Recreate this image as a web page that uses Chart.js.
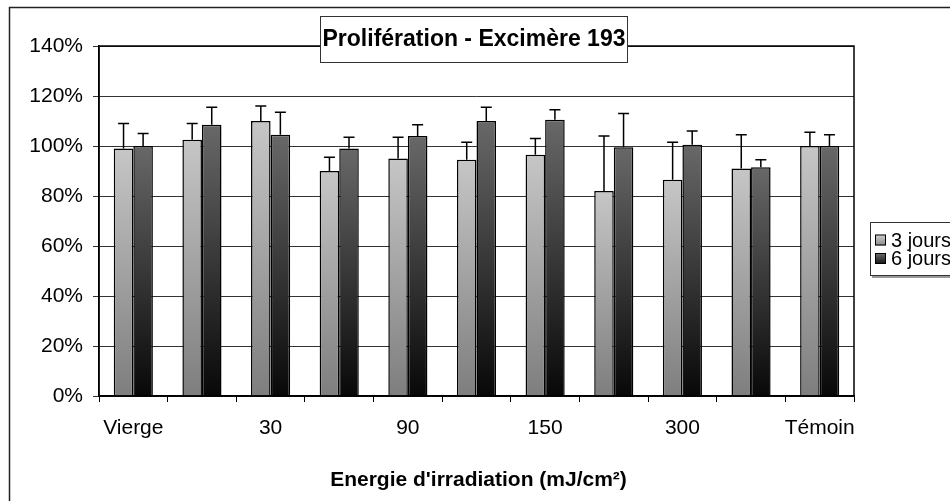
<!DOCTYPE html>
<html>
<head>
<meta charset="utf-8">
<script src="https://cdn.jsdelivr.net/npm/chart.js@4"></script>
<style>
  html, body { margin: 0; padding: 0; background: #fff; }
  #wrap { width: 950px; height: 501px; }
</style>
</head>
<body>
<div id="wrap"><canvas id="myChart" width="950" height="501"></canvas></div>
<script>
const categories = ['Vierge', '', '30', '', '90', '', '150', '', '300', '', 'Témoin'];
const seriesNames = ['3 jours', '6 jours'];
const jours3 = [99, 102.5, 110, 90, 95, 94.5, 96.5, 82, 86.5, 91, 100];
const jours6 = [100, 108.5, 104.5, 99, 104, 110, 110.5, 99.5, 100.5, 91.5, 100];
const err3 = [10, 6.5, 6, 5.5, 8.5, 7, 6.5, 22, 15, 13.5, 5.5];
const err6 = [5, 7, 9, 4.5, 4.5, 5.5, 4, 13.5, 5.5, 3, 4.5];
const yTicks = [0, 20, 40, 60, 80, 100, 120, 140];
const titre = 'Prolifération - Excimère 193';
const titreAxeX = "Energie d'irradiation (mJ/cm²)";

const police = '"Liberation Sans", Arial, sans-serif';
const ctx = document.getElementById('myChart');

// degrade par barre, du haut de la barre jusqu'a 0
const degrade = (haut, bas) => (c) => {
    const chart = c.chart;
    const ys = chart.scales.y;
    if (!ys || c.parsed === undefined || !chart.chartArea) return haut;
    const y0 = ys.getPixelForValue(c.parsed.y);
    const y1 = ys.getPixelForValue(0);
    if (!isFinite(y0) || !isFinite(y1) || y0 === y1) return haut;
    const g = chart.ctx.createLinearGradient(0, y0, 0, y1);
    g.addColorStop(0, haut);
    g.addColorStop(1, bas);
    return g;
};

const decor = {
    id: 'decor',
    beforeDraw(chart) {
        const c = chart.ctx;
        c.save();
        c.fillStyle = '#fff';
        c.fillRect(0, 0, chart.width, chart.height);
        c.restore();
    },
    afterDraw(chart) {
        const c = chart.ctx;
        const a = chart.chartArea;
        const ys = chart.scales.y;
        c.save();

        // cadre exterieur
        c.strokeStyle = '#222';
        c.lineWidth = 1.5;
        c.strokeRect(9.5, 7.5, 1200, 1200);

        // bord de la zone de trace
        c.strokeStyle = '#000';
        c.lineWidth = 1.5;
        c.strokeRect(a.left, a.top, a.right - a.left, a.bottom - a.top);

        // barres d'erreur
        const errs = [err3, err6];
        c.strokeStyle = '#000';
        c.lineWidth = 1.5;
        errs.forEach((e, di) => {
            const meta = chart.getDatasetMeta(di);
            meta.data.forEach((bar, i) => {
                const v = chart.data.datasets[di].data[i];
                const yTop = ys.getPixelForValue(v + e[i]);
                const yBar = ys.getPixelForValue(v);
                c.beginPath();
                c.moveTo(bar.x, yBar);
                c.lineTo(bar.x, yTop);
                c.moveTo(bar.x - 5.5, yTop);
                c.lineTo(bar.x + 5.5, yTop);
                c.stroke();
            });
        });

        // titre
        c.fillStyle = '#fff';
        c.fillRect(320, 16, 307, 46);
        c.strokeStyle = '#333';
        c.lineWidth = 1;
        c.strokeRect(320.5, 16.5, 307, 46);
        c.fillStyle = '#000';
        c.font = 'bold 23px ' + police;
        c.textAlign = 'center';
        c.textBaseline = 'middle';
        c.fillText(titre, 474, 40);

        // titre axe X
        c.font = 'bold 21px ' + police;
        c.fillText(titreAxeX, (a.left + a.right) / 2 + 2, 480);

        // legende
        c.fillStyle = '#999';
        c.fillRect(872, 224, 100, 54);
        c.fillStyle = '#fff';
        c.fillRect(870, 222, 100, 54);
        c.strokeStyle = '#333';
        c.lineWidth = 1;
        c.strokeRect(870.5, 222.5, 100, 53);
        const couleurs = [['#d0d0d0', '#8a8a8a'], ['#707070', '#111']];
        c.textAlign = 'left';
        c.font = '20px ' + police;
        seriesNames.forEach((nom, k) => {
            const yc = 240 + k * 18.5;
            const g = c.createLinearGradient(0, yc - 5.5, 0, yc + 5.5);
            g.addColorStop(0, couleurs[k][0]);
            g.addColorStop(1, couleurs[k][1]);
            c.fillStyle = g;
            c.fillRect(875, yc - 5.5, 11, 11);
            c.strokeStyle = '#000';
            c.strokeRect(875.5, yc - 5, 10, 10);
            c.fillStyle = '#000';
            c.fillText(nom, 891, yc + 1);
        });
        c.restore();
    }
};

new Chart(ctx, {
    type: 'bar',
    data: {
        labels: categories,
        datasets: [{
            label: seriesNames[0],
            data: jours3,
            backgroundColor: degrade('#c6c6c6', '#7e7e7e'),
            borderColor: '#000',
            borderWidth: 1.5,
            categoryPercentage: 0.57,
            barPercentage: 1
        }, {
            label: seriesNames[1],
            data: jours6,
            backgroundColor: degrade('#686868', '#080808'),
            borderColor: '#000',
            borderWidth: 1.5,
            categoryPercentage: 0.57,
            barPercentage: 1
        }]
    },
    options: {
        responsive: false,
        animation: false,
        events: [],
        layout: { padding: { left: 0, top: 46, right: 96, bottom: 0 } },
        plugins: {
            legend: { display: false },
            title: { display: false },
            tooltip: { enabled: false }
        },
        scales: {
            x: {
                afterFit: (s) => { s.height = 105; },
                grid: { drawOnChartArea: false, drawTicks: true, tickLength: 6, color: '#000', lineWidth: 1 },
                border: { color: '#000', width: 1.5 },
                ticks: {
                    autoSkip: false,
                    maxRotation: 0,
                    padding: 14,
                    color: '#000',
                    font: { family: police, size: 21 }
                }
            },
            y: {
                min: 0,
                max: 140,
                afterFit: (s) => { s.width = 99; },
                afterBuildTicks: (s) => { s.ticks = yTicks.map(v => ({ value: v })); },
                grid: { color: '#333', lineWidth: 1, tickLength: 6 },
                border: { color: '#000', width: 1.5 },
                ticks: {
                    padding: 10,
                    color: '#000',
                    font: { family: police, size: 21 },
                    callback: (v) => v + '%'
                }
            }
        }
    },
    plugins: [decor]
});
</script>
</body>
</html>
